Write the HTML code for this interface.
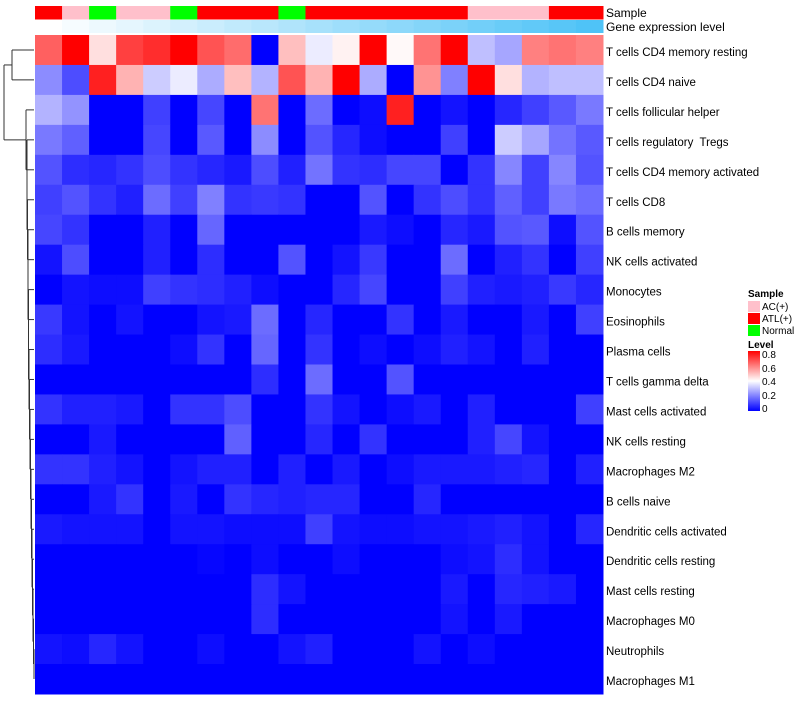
<!DOCTYPE html>
<html><head><meta charset="utf-8"><style>
body{margin:0;background:#fff;font-family:"Liberation Sans",sans-serif;}
svg text{font-family:"Liberation Sans",sans-serif;white-space:pre;}
</style></head><body>
<svg id="chart" width="800" height="700" xmlns="http://www.w3.org/2000/svg">
<g id="dendro" stroke="#333" fill="none" stroke-width="1"></g>
<g id="annot"></g>
<g id="cells"></g>
<g id="labels"></g>
<text x="606" y="17" font-size="12">Sample</text>
<text x="606" y="31" font-size="12">Gene expression level</text>
<g>
<text x="748" y="297" font-size="10" font-weight="bold">Sample</text>
<rect x="748" y="301" width="12" height="11" fill="#FFC0CB"/>
<text x="762" y="310" font-size="10">AC(+)</text>
<rect x="748" y="313" width="12" height="11" fill="#FF0000"/>
<text x="762" y="322" font-size="10">ATL(+)</text>
<rect x="748" y="325" width="12" height="11" fill="#00FF00"/>
<text x="762" y="334" font-size="10">Normal</text>
<text x="748" y="348" font-size="10" font-weight="bold">Level</text>
<defs><linearGradient id="lg" x1="0" y1="1" x2="0" y2="0"><stop offset="0" stop-color="#0000FF"/><stop offset="0.5" stop-color="#FFFFFF"/><stop offset="1" stop-color="#FF0000"/></linearGradient></defs>
<rect x="748" y="351" width="12" height="60" fill="url(#lg)"/>
<text x="762" y="358" font-size="10">0.8</text>
<text x="762" y="372" font-size="10">0.6</text>
<text x="762" y="385" font-size="10">0.4</text>
<text x="762" y="399" font-size="10">0.2</text>
<text x="762" y="412" font-size="10">0</text>
</g>
</svg>
<script>
const rowNames=["T cells CD4 memory resting","T cells CD4 naive","T cells follicular helper","T cells regulatory  Tregs","T cells CD4 memory activated","T cells CD8","B cells memory","NK cells activated","Monocytes","Eosinophils","Plasma cells","T cells gamma delta","Mast cells activated","NK cells resting","Macrophages M2","B cells naive","Dendritic cells activated","Dendritic cells resting","Mast cells resting","Macrophages M0","Neutrophils","Macrophages M1"];
const sampleGroups=["ATL","AC","Normal","AC","AC","Normal","ATL","ATL","ATL","Normal","ATL","ATL","ATL","ATL","ATL","ATL","AC","AC","AC","ATL","ATL"];
const geneLevel=[0,0.05,0.1,0.15,0.2,0.25,0.3,0.35,0.4,0.45,0.5,0.55,0.6,0.65,0.7,0.75,0.8,0.85,0.9,0.95,1];
const values=[
[0.65,0.8,0.45,0.7,0.73,0.8,0.67,0.63,0,0.5,0.37,0.42,0.8,0.41,0.62,0.8,0.3,0.26,0.6,0.62,0.6],
[0.22,0.12,0.75,0.52,0.32,0.37,0.27,0.5,0.28,0.67,0.52,0.8,0.27,0,0.57,0.2,0.8,0.45,0.28,0.3,0.3],
[0.28,0.23,0,0,0.1,0,0.11,0,0.62,0,0.17,0,0.02,0.75,0,0.03,0,0.06,0.1,0.14,0.19],
[0.19,0.15,0,0,0.11,0,0.14,0,0.22,0,0.13,0.06,0.02,0,0,0.1,0,0.32,0.26,0.18,0.14],
[0.13,0.07,0.06,0.08,0.12,0.08,0.06,0.04,0.12,0.05,0.18,0.08,0.07,0.11,0.11,0,0.08,0.21,0.1,0.21,0.13],
[0.1,0.13,0.08,0.05,0.17,0.1,0.2,0.08,0.09,0.08,0,0,0.13,0,0.08,0.12,0.08,0.15,0.1,0.19,0.17],
[0.11,0.08,0,0,0.05,0,0.16,0,0,0,0,0,0.04,0.02,0,0.06,0.04,0.13,0.14,0.02,0.13],
[0.03,0.12,0,0,0.05,0,0.07,0,0,0.13,0,0.03,0.09,0,0,0.17,0,0.05,0.08,0,0.1],
[0,0.03,0.02,0.02,0.1,0.08,0.07,0.05,0.02,0,0,0.06,0.11,0,0,0.1,0.05,0.04,0.05,0.09,0.06],
[0.09,0.03,0,0.03,0,0,0.03,0.04,0.17,0,0.06,0,0,0.08,0,0.04,0,0,0.04,0,0.1],
[0.07,0.04,0,0,0,0.02,0.08,0,0.16,0,0.08,0,0.02,0,0.02,0.05,0.03,0,0.05,0,0],
[0,0,0,0,0,0,0,0,0.07,0,0.17,0,0,0.13,0,0,0,0,0,0,0],
[0.08,0.05,0.05,0.04,0,0.08,0.08,0.12,0,0,0.08,0.03,0,0.02,0.04,0,0.05,0,0,0,0.1],
[0,0,0.04,0,0,0,0,0.15,0,0,0.06,0,0.08,0,0,0,0.05,0.11,0.03,0,0],
[0.08,0.08,0.05,0.03,0,0.03,0.05,0.05,0,0.05,0,0.04,0,0.02,0.04,0.04,0.04,0.05,0.06,0,0.05],
[0,0,0.04,0.08,0,0.04,0,0.08,0.06,0.05,0.06,0.06,0,0,0.06,0,0,0,0,0,0],
[0.04,0.03,0.03,0.03,0,0.03,0.03,0.02,0.02,0.02,0.1,0.03,0.02,0.02,0.03,0.03,0.04,0.05,0.03,0,0.06],
[0,0,0,0,0,0,0.01,0,0.02,0,0,0.02,0,0,0,0.02,0.03,0.07,0.03,0,0],
[0,0,0,0,0,0,0,0,0.07,0.03,0,0,0,0,0,0.04,0,0.06,0.05,0.04,0],
[0,0,0,0,0,0,0,0,0.07,0,0,0,0,0,0,0.03,0,0.04,0,0,0],
[0.03,0.02,0.06,0.03,0,0,0.02,0,0,0.03,0.05,0,0,0,0.03,0,0.02,0,0,0,0],
[0,0,0,0,0,0,0,0,0,0,0,0,0,0,0,0,0,0,0,0,0]
];
const NS="http://www.w3.org/2000/svg";
const X0=35,X1=603,Y0=35,Y1=694;
const nC=geneLevel.length,nR=rowNames.length;
const cw=(X1-X0)/nC,rh=(Y1-Y0)/nR;
const xPos=i=>X0+i*cw, yPos=j=>Y0+j*rh;
function col(v){v=Math.max(0,Math.min(0.8,v));let r,g,b;
 if(v<=0.4){const t=v/0.4;r=g=Math.round(255*t);b=255;}else{const t=(v-0.4)/0.4;r=255;g=b=Math.round(255*(1-t));}
 return `rgb(${r},${g},${b})`;}
const sCol={ATL:"#FF0000",AC:"#FFC0CB",Normal:"#00FF00"};
function mk(tag,at,parent){const e=document.createElementNS(NS,tag);for(const k in at)e.setAttribute(k,at[k]);parent.appendChild(e);return e;}
const cells=document.getElementById('cells'),annot=document.getElementById('annot'),labels=document.getElementById('labels');
for(let i=0;i<nC;i++){
 const a=mk('rect',{x:xPos(i),y:6,width:cw+0.5,height:13.5,fill:sCol[sampleGroups[i]]},annot);
 
 
 const t=geneLevel[i];
 const g=mk('rect',{x:xPos(i),y:20,width:cw+0.5,height:13,fill:`rgb(${Math.round(255-176*t)},${Math.round(255-60*t)},${Math.round(255-8*t)})`},annot);
 
 
}
for(let j=0;j<nR;j++){
 for(let i=0;i<nC;i++){
  const r=mk('rect',{x:xPos(i),y:yPos(j),width:cw+0.5,height:rh+0.5,fill:col(values[j][i])},cells);
  
  
 }
 const t=mk('text',{x:606,y:yPos(j)+rh/2+6,'font-size':11.5},labels);
 t.textContent=rowNames[j];
 
 
}
const d=document.getElementById('dendro');
const cy=j=>yPos(j)+rh/2;
function line(x1,y1,x2,y2){const l=mk('line',{x1,y1,x2,y2},d);}
line(12,cy(0),34,cy(0));line(12,cy(1),34,cy(1));line(12,cy(0),12,cy(1));
const topMid=(cy(0)+cy(1))/2;
let prevY=cy(nR-1), prevX=34;
const joinX=[34,33.5,33,32.5,32,31.5,31,30.5,30,29.5,29,28.5,28.5,28,28,27.5,27,27,26,21];
for(let j=nR-2;j>=2;j--){
 const x=joinX[nR-2-j];
 line(x,cy(j),34,cy(j));line(x,prevY,prevX,prevY);line(x,cy(j),x,prevY);
 prevY=(cy(j)+prevY)/2;prevX=x;
}
line(4,topMid,12,topMid);line(4,prevY,prevX,prevY);line(4,topMid,4,prevY);
</script>
</body></html>
